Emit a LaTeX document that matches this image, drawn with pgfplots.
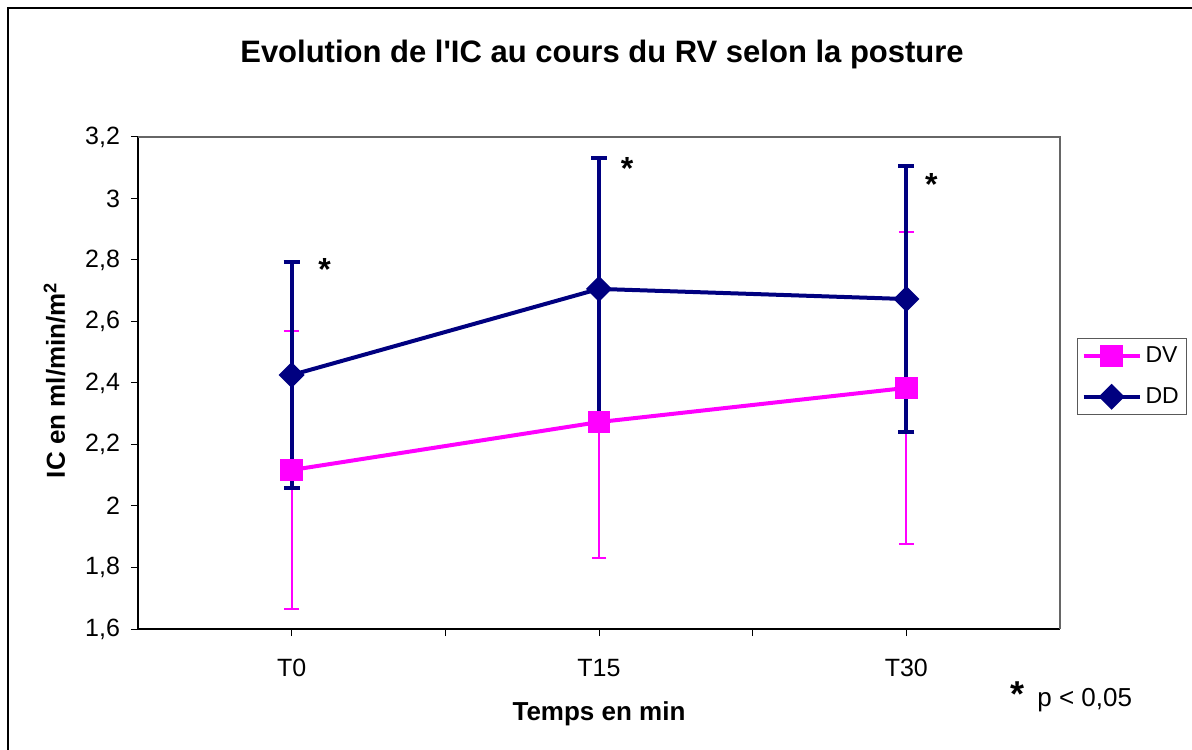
\documentclass[border=0pt]{standalone}
\usepackage{fontspec}
\setmainfont{Liberation Sans}[Ligatures=TeXOff]
\usepackage{pgfplots}
\pgfplotsset{compat=1.18}
\usepackage{pgfplotstable}
\definecolor{dv}{RGB}{255,0,255}
\definecolor{dd}{RGB}{0,0,128}
\pgfplotstableread{
x y e
0.5 2.117 0.452
1.5 2.273 0.442
2.5 2.384 0.508
}\dvdata
\pgfplotstableread{
x y e
0.5 2.426 0.368
1.5 2.706 0.425
2.5 2.673 0.432
}\dddata
\begin{document}
\begin{tikzpicture}
\useasboundingbox (-69pt,-60pt) rectangle (527pt,314.5pt);
\draw[line width=1pt] (-65pt,-62pt) -- (-65pt,310.5pt) -- (530pt,310.5pt);
\begin{axis}[
  at={(0,0)}, anchor=south west,
  scale only axis, width=461pt, height=246pt,
  xmin=0, xmax=3, ymin=1.6, ymax=3.2,
  axis x line*=bottom, axis y line*=left,
  axis line style={line width=0.7pt, -},
  xtick={0.5,1.5,2.5}, xticklabels={T0,T15,T30},
  minor xtick={1,2},
  ytick={1.6,1.8,...,3.21},
  tick align=outside, major tick length=3.5pt, minor tick length=3.5pt,
  tick style={black, line width=0.5pt},
  xtick pos=bottom, ytick pos=left,
  /pgf/number format/assume math mode=true,
  /pgf/number format/fixed, /pgf/number format/use comma, /pgf/number format/precision=1,
  ticklabel style={font=\fontsize{12.5}{14}\selectfont},
  xticklabel style={yshift=-8pt},
  yticklabel style={xshift=-2pt},
  reverse legend,
  legend style={at={(axis description cs:1.0184,0.5915)}, anchor=north west,
    draw=black!65, line width=0.6pt, font=\fontsize{11.5}{13}\selectfont,
    inner sep=2pt, row sep=7pt, cells={anchor=west}},
  legend image code/.code={\draw[mark repeat=2,mark phase=2] plot coordinates {(0pt,0pt) (14pt,0pt) (28pt,0pt)};},
]
% DV error bars (drawn first, beneath everything)
\addplot[forget plot, draw=none, mark=none,
  error bars/.cd, y dir=both, y explicit,
  error bar style={draw=dv, line width=1pt, solid},
  error mark options={draw=dv, rotate=90, mark size=3.7pt, line width=1pt}]
  table[x=x, y=y, y error=e] {\dvdata};
% DD error bars
\addplot[forget plot, draw=none, mark=none,
  error bars/.cd, y dir=both, y explicit,
  error bar style={draw=dd, line width=2pt, solid},
  error mark options={draw=dd, rotate=90, mark size=4pt, line width=2pt}]
  table[x=x, y=y, y error=e] {\dddata};
\addplot[dd, line width=2pt, mark=square*, mark size=3.6pt, mark options={rotate=45, solid, fill=dd}]
  table[x=x, y=y] {\dddata};
\addlegendentry{DD}
\addplot[dv, line width=2pt, mark=square*, mark size=4.7pt, mark options={solid, fill=dv}]
  table[x=x, y=y] {\dvdata};
\addlegendentry{DV}
\node[anchor=base, font=\bfseries\fontsize{16}{16}\selectfont] at (axis cs:0.607,2.733) {*};
\node[anchor=base, font=\bfseries\fontsize{16}{16}\selectfont] at (axis cs:1.591,3.062) {*};
\node[anchor=base, font=\bfseries\fontsize{16}{16}\selectfont] at (axis cs:2.581,3.010) {*};
\end{axis}
\draw[black!60, line width=0.7pt] (0pt,246pt) -- (461pt,246pt) -- (461pt,0pt);
\node[anchor=base, font=\bfseries\fontsize{15.5}{18}\selectfont] at (232pt,283pt) {Evolution de l'IC au cours du RV selon la posture};
\node[anchor=base, font=\bfseries\fontsize{13}{15}\selectfont] at (230.5pt,-45.5pt) {Temps en min};
\node[anchor=base, rotate=90, font=\bfseries\fontsize{13}{15}\selectfont] at (-36.5pt,124.5pt) {IC en ml/min/m\textsuperscript{2}};
\node[anchor=base west, inner sep=0pt, font=\bfseries\fontsize{18}{18}\selectfont] at (436pt,-38.5pt) {*};
\node[anchor=base west, inner sep=0pt, font=\fontsize{13}{15}\selectfont] at (449.5pt,-38.5pt) {p < 0,05};
\end{tikzpicture}
\end{document}
